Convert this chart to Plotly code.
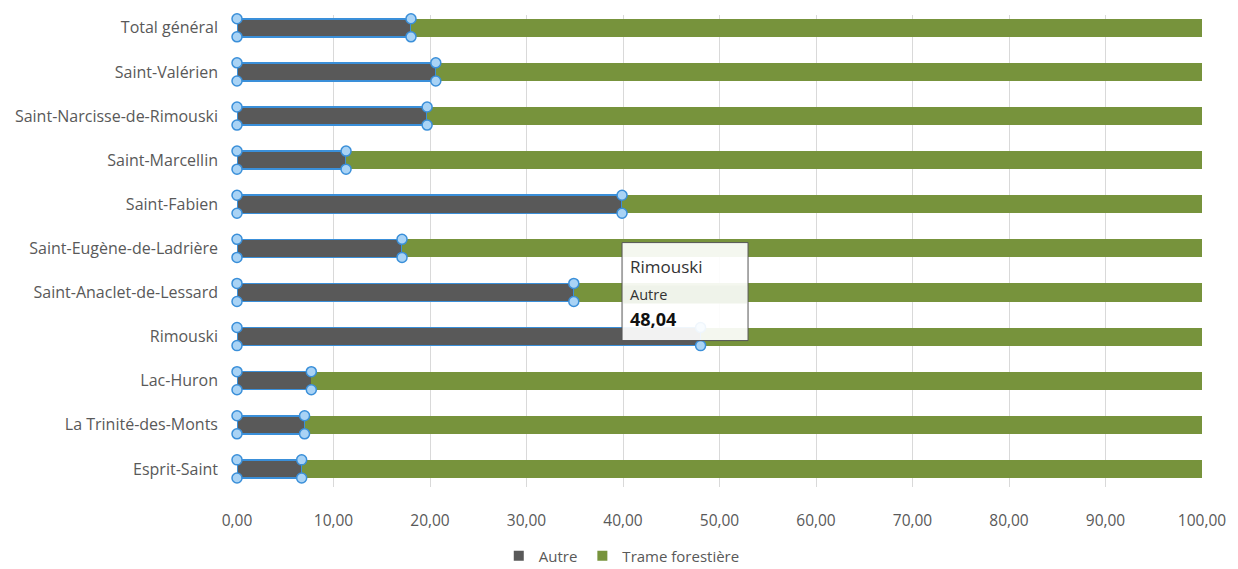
import plotly.graph_objects as go

# categories listed bottom to top
municipalites = [
    "Esprit-Saint",
    "La Trinité-des-Monts",
    "Lac-Huron",
    "Rimouski",
    "Saint-Anaclet-de-Lessard",
    "Saint-Eugène-de-Ladrière",
    "Saint-Fabien",
    "Saint-Marcellin",
    "Saint-Narcisse-de-Rimouski",
    "Saint-Valérien",
    "Total général",
]
autre = [6.7, 7.0, 7.7, 48.04, 34.9, 17.1, 39.9, 11.3, 19.7, 20.6, 18.03]
trame_forestiere = [93.3, 93.0, 92.3, 51.96, 65.1, 82.9, 60.1, 88.7, 80.3, 79.4, 81.97]
x_ticks = [0, 10, 20, 30, 40, 50, 60, 70, 80, 90, 100]

FONT = "Open Sans"
GREY_TXT = "#595959"
C_AUTRE = "#595959"
C_TRAME = "#77933c"
SEL = "#3a8fd9"
BAR_W = 0.41

pos = list(range(len(municipalites)))

fig = go.Figure()

fig.add_trace(go.Bar(
    y=pos, x=autre, orientation="h", name="Autre", width=BAR_W, showlegend=False,
    marker=dict(color=C_AUTRE, line=dict(color=SEL, width=1.5)),
))
fig.add_trace(go.Bar(
    y=pos, x=trame_forestiere, orientation="h", name="Trame forestière",
    width=BAR_W, showlegend=False,
    marker=dict(color=C_TRAME, line=dict(width=0)),
))

# selection handles on the "Autre" series (corners of each bar)
hx, hy = [], []
for p, v in zip(pos, autre):
    for xx in (0, v):
        for dy in (-BAR_W / 2, BAR_W / 2):
            hx.append(xx)
            hy.append(p + dy)
fig.add_trace(go.Scatter(
    x=hx, y=hy, mode="markers", showlegend=False, hoverinfo="skip", cliponaxis=False,
    marker=dict(size=10, color="#a9d3f5", line=dict(color=SEL, width=1.5)),
))

# legend entries with plain square swatches
for nm, col in (("Autre", C_AUTRE), ("Trame forestière", C_TRAME)):
    fig.add_trace(go.Scatter(
        x=[None], y=[None], mode="markers", name=nm,
        marker=dict(symbol="square", size=10, color=col),
    ))

# tooltip on Rimouski
i_rim = municipalites.index("Rimouski")
tip_x = 39.9
fig.add_shape(
    type="rect", xref="x", yref="y", xsizemode="pixel", ysizemode="pixel",
    xanchor=tip_x, yanchor=pos[i_rim], x0=0, x1=126, y0=-4, y1=94,
    fillcolor="rgba(255,255,255,0.92)", line=dict(color="#555555", width=1),
    layer="above",
)
fig.add_shape(
    type="rect", xref="x", yref="y", xsizemode="pixel", ysizemode="pixel",
    xanchor=tip_x, yanchor=pos[i_rim], x0=1, x1=125, y0=33, y1=51,
    fillcolor="#eff3ea", line=dict(width=0), layer="above",
)
val_txt = f"{autre[i_rim]:.2f}".replace(".", ",")
for txt, sh, sz, col in (
    (municipalites[i_rim], 70, 17, "#333333"),
    ("Autre", 42, 14.5, "#333333"),
    ("<b>" + val_txt + "</b>", 18, 18, "#111111"),
):
    fig.add_annotation(
        x=tip_x, y=pos[i_rim], xref="x", yref="y", xanchor="left", yanchor="middle",
        xshift=6, yshift=sh, showarrow=False, text=txt,
        font=dict(family=FONT, size=sz, color=col),
    )

fig.update_layout(
    width=1230, height=561,
    barmode="stack",
    separators=", ",
    plot_bgcolor="white", paper_bgcolor="white",
    margin=dict(l=229, r=36, t=7, b=82),
    font=dict(family=FONT, color=GREY_TXT, size=16),
    legend=dict(
        orientation="h", xref="container", yref="container",
        x=0.499, xanchor="center", y=0.023, yanchor="middle",
        font=dict(size=15, color=GREY_TXT), itemwidth=30, traceorder="normal",
    ),
    xaxis=dict(
        range=[0, 100], tickvals=x_ticks, tickformat=".2f",
        showgrid=True, gridcolor="#d9d9d9", gridwidth=1, zeroline=False,
        showline=False, ticks="", ticklabelstandoff=22,
        tickfont=dict(size=15.5, color=GREY_TXT),
    ),
    yaxis=dict(
        range=[-0.41, 10.29], tickvals=pos, ticktext=municipalites,
        showgrid=False, zeroline=False, showline=False, ticks="",
        ticklabelstandoff=18, tickfont=dict(size=16, color=GREY_TXT),
    ),
)

fig.write_html("out.html")
